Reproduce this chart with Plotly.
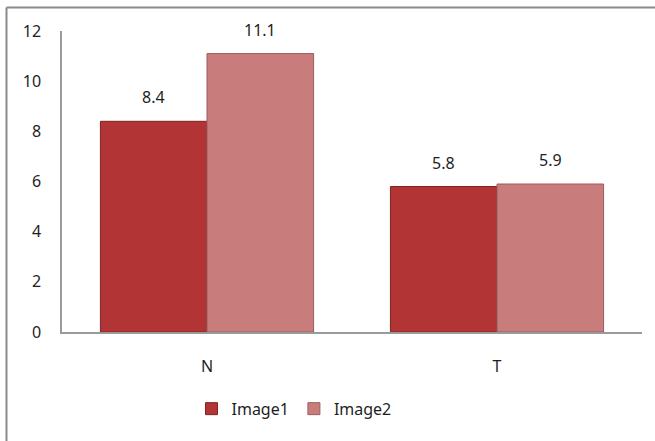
import plotly.graph_objects as go

categories = ["N", "T"]
image1 = [8.4, 5.8]
image2 = [11.1, 5.9]
y_ticks = [0, 2, 4, 6, 8, 10, 12]

font_family = "Noto Sans, Open Sans, sans-serif"
bargap = 0.265
half_bar = (1 - bargap) / 4  # centre offset of each bar in a two-bar group

fig = go.Figure()
fig.add_trace(go.Bar(
    name="Image1", x=categories, y=image1,
    marker=dict(color="#B23434", line=dict(color="#7E2424", width=1)),
))
fig.add_trace(go.Bar(
    name="Image2", x=categories, y=image2,
    marker=dict(color="#C97C7C", line=dict(color="#9C5C5C", width=1)),
))

# value labels above each bar
annotations = []
for i, cat in enumerate(categories):
    for vals, off in ((image1, -half_bar), (image2, half_bar)):
        annotations.append(dict(
            x=i + off, y=vals[i], xref="x", yref="y", text=f"{vals[i]:.1f}",
            showarrow=False, yanchor="bottom", yshift=11,
            font=dict(size=16, color="#1E1E1E"),
        ))

fig.update_layout(
    width=655, height=441,
    margin=dict(l=62, r=13, t=31, b=109),
    paper_bgcolor="white", plot_bgcolor="white",
    font=dict(family=font_family, size=16, color="#1E1E1E"),
    barmode="group", bargap=bargap, bargroupgap=0,
    showlegend=True,
    legend=dict(orientation="h", x=0.4, xanchor="center", y=-0.255, yanchor="middle",
                font=dict(size=16), itemwidth=30, tracegroupgap=0),
    xaxis=dict(showline=True, linecolor="#9A9A9A", linewidth=1.5, ticks="",
               showgrid=False, tickfont=dict(size=16), ticklabelstandoff=19),
    yaxis=dict(range=[0, 12], tickvals=y_ticks, showline=True, linecolor="#9A9A9A",
               linewidth=1.5, ticks="", showgrid=False, zeroline=False,
               tickfont=dict(size=16), ticklabelstandoff=16),
    annotations=annotations,
    shapes=[
        dict(type="line", xref="paper", yref="paper", x0=-0.0957, x1=1.05, y0=1.078, y1=1.078,
             line=dict(color="#8A8A8A", width=2)),
        dict(type="line", xref="paper", yref="paper", x0=-0.0957, x1=-0.0957, y0=1.078, y1=-0.4,
             line=dict(color="#8A8A8A", width=2)),
    ],
)

fig.write_html("out.html")
